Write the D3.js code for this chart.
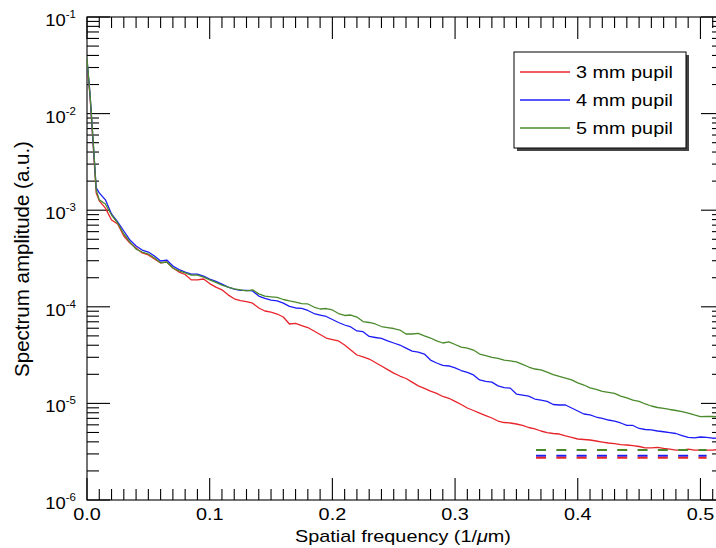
<!DOCTYPE html>
<html>
<head>
<meta charset="UTF-8">
<script src="https://d3js.org/d3.v7.min.js"></script>
<style>
    body { margin: 0; background: #fff; }
    svg { display: block; }
    text { font-family: "Liberation Sans", Arial, Helvetica, sans-serif; fill: #000; }
</style>
</head>
<body>
<svg width="716" height="548"></svg>
<script>
// sample grid (1/um)
const freq = [0, 0.0025, 0.005, 0.0075].concat(d3.range(0.01, 0.5151, 0.005));

const pupil3 = [
    3.42e-2, 1.49e-2, 4.73e-3, 1.51e-3, 1.25e-3, 1.05e-3, 7.92e-4, 7.19e-4, 5.41e-4, 4.57e-4,
    4.06e-4, 3.61e-4, 3.44e-4, 3.13e-4, 2.85e-4, 2.91e-4, 2.52e-4, 2.29e-4, 2.16e-4, 1.90e-4,
    1.90e-4, 1.94e-4, 1.74e-4, 1.60e-4, 1.50e-4, 1.33e-4, 1.21e-4, 1.16e-4, 1.13e-4, 1.09e-4,
    9.72e-5, 9.05e-5, 8.83e-5, 8.42e-5, 7.84e-5, 6.64e-5, 6.72e-5, 6.40e-5, 6.10e-5, 5.62e-5,
    5.17e-5, 4.75e-5, 4.58e-5, 4.43e-5, 4.02e-5, 3.57e-5, 3.17e-5, 3.03e-5, 2.88e-5, 2.65e-5,
    2.44e-5, 2.24e-5, 2.06e-5, 1.92e-5, 1.81e-5, 1.66e-5, 1.52e-5, 1.43e-5, 1.34e-5, 1.27e-5,
    1.18e-5, 1.13e-5, 1.05e-5, 9.74e-6, 8.96e-6, 8.44e-6, 7.95e-6, 7.49e-6, 7.06e-6, 6.57e-6,
    6.34e-6, 6.27e-6, 6.12e-6, 5.91e-6, 5.63e-6, 5.44e-6, 5.18e-6, 4.99e-6, 4.88e-6, 4.82e-6,
    4.60e-6, 4.44e-6, 4.28e-6, 4.23e-6, 4.18e-6, 4.08e-6, 3.98e-6, 3.89e-6, 3.84e-6, 3.75e-6,
    3.71e-6, 3.66e-6, 3.58e-6, 3.46e-6, 3.46e-6, 3.50e-6, 3.42e-6, 3.36e-6, 3.29e-6, 3.29e-6,
    3.36e-6, 3.29e-6, 3.29e-6, 3.29e-6, 3.29e-6, 3.33e-6
];
const pupil4 = [
    3.60e-2, 1.56e-2, 5.08e-3, 1.70e-3, 1.51e-3, 1.28e-3, 9.13e-4, 7.55e-4, 6.09e-4, 4.91e-4,
    4.26e-4, 3.87e-4, 3.69e-4, 3.36e-4, 2.98e-4, 3.05e-4, 2.64e-4, 2.43e-4, 2.29e-4, 2.18e-4,
    2.18e-4, 2.08e-4, 1.94e-4, 1.83e-4, 1.72e-4, 1.60e-4, 1.52e-4, 1.48e-4, 1.48e-4, 1.46e-4,
    1.29e-4, 1.22e-4, 1.17e-4, 1.15e-4, 1.09e-4, 1.01e-4, 9.72e-5, 9.65e-5, 9.16e-5, 8.52e-5,
    8.22e-5, 7.94e-5, 7.39e-5, 6.88e-5, 6.48e-5, 6.18e-5, 5.62e-5, 5.52e-5, 4.93e-5, 4.81e-5,
    4.70e-5, 4.43e-5, 4.22e-5, 4.02e-5, 3.74e-5, 3.48e-5, 3.40e-5, 3.24e-5, 2.81e-5, 2.62e-5,
    2.47e-5, 2.44e-5, 2.33e-5, 2.19e-5, 2.09e-5, 1.97e-5, 1.75e-5, 1.69e-5, 1.66e-5, 1.52e-5,
    1.46e-5, 1.44e-5, 1.25e-5, 1.22e-5, 1.19e-5, 1.11e-5, 1.08e-5, 1.05e-5, 9.74e-6, 9.63e-6,
    9.63e-6, 8.96e-6, 8.34e-6, 7.77e-6, 7.59e-6, 7.23e-6, 6.98e-6, 6.73e-6, 6.57e-6, 6.27e-6,
    5.91e-6, 5.91e-6, 5.50e-6, 5.37e-6, 5.31e-6, 5.18e-6, 5.09e-6, 4.99e-6, 4.88e-6, 4.65e-6,
    4.44e-6, 4.39e-6, 4.49e-6, 4.44e-6, 4.36e-6, 4.39e-6
];
const pupil5 = [
    3.76e-2, 1.56e-2, 5.33e-3, 1.62e-3, 1.28e-3, 1.16e-3, 8.92e-4, 7.37e-4, 5.67e-4, 4.68e-4,
    3.96e-4, 3.69e-4, 3.52e-4, 3.20e-4, 2.85e-4, 2.91e-4, 2.52e-4, 2.35e-4, 2.24e-4, 2.13e-4,
    2.13e-4, 2.03e-4, 1.90e-4, 1.79e-4, 1.68e-4, 1.60e-4, 1.53e-4, 1.50e-4, 1.46e-4, 1.50e-4,
    1.36e-4, 1.29e-4, 1.27e-4, 1.25e-4, 1.19e-4, 1.15e-4, 1.12e-4, 1.08e-4, 1.07e-4, 9.95e-5,
    9.49e-5, 9.60e-5, 9.27e-5, 8.52e-5, 8.13e-5, 8.22e-5, 7.84e-5, 7.04e-5, 6.88e-5, 6.64e-5,
    6.25e-5, 6.10e-5, 5.96e-5, 5.75e-5, 5.23e-5, 5.23e-5, 5.30e-5, 4.99e-5, 4.75e-5, 4.43e-5,
    4.22e-5, 4.33e-5, 4.07e-5, 3.83e-5, 3.74e-5, 3.57e-5, 3.24e-5, 3.13e-5, 2.99e-5, 2.92e-5,
    2.81e-5, 2.75e-5, 2.69e-5, 2.53e-5, 2.38e-5, 2.27e-5, 2.22e-5, 2.11e-5, 1.99e-5, 1.90e-5,
    1.83e-5, 1.75e-5, 1.63e-5, 1.55e-5, 1.45e-5, 1.40e-5, 1.33e-5, 1.30e-5, 1.27e-5, 1.19e-5,
    1.14e-5, 1.08e-5, 1.05e-5, 9.86e-6, 9.40e-6, 9.07e-6, 8.90e-6, 8.65e-6, 8.44e-6, 8.24e-6,
    7.95e-6, 7.59e-6, 7.28e-6, 7.32e-6, 7.32e-6, 7.23e-6
];

// noise floor levels (dashed)
const floorStart = 0.366, floorEnd = 0.505;
const floor5 = 3.30e-6, floor4 = 2.87e-6, floor3 = 2.74e-6;

const seriesNames = ["3 mm pupil", "4 mm pupil", "5 mm pupil"];
const seriesColors = ["#e8242b", "#1c1cf5", "#4a8a2c"];

const xMajor = [0, 0.1, 0.2, 0.3, 0.4, 0.5];
const xMajorLabels = ["0.0", "0.1", "0.2", "0.3", "0.4", "0.5"];
const yDecades = [1e-6, 1e-5, 1e-4, 1e-3, 1e-2, 1e-1];
const yExponents = ["-6", "-5", "-4", "-3", "-2", "-1"];

const svg = d3.select("svg");
const pl = 87, pr = 724, pt = 17, pb = 500;

const x = d3.scaleLinear().domain([0, 0.5192]).range([pl, pr]);
const y = d3.scaleLog().domain([1e-6, 1e-1]).range([pb, pt]);

// stretched text helper (the original font is wide)
function label(g, px, py, str, anchor, size) {
    return g.append("text")
        .attr("transform", `translate(${px},${py}) scale(1.24,1)`)
        .attr("text-anchor", anchor)
        .style("font-size", size + "px")
        .text(str);
}

svg.append("defs").append("clipPath").attr("id", "plot")
    .append("rect").attr("x", pl).attr("y", pt)
    .attr("width", pr - pl).attr("height", pb - pt);

const axes = svg.append("g").attr("stroke", "#000").attr("stroke-width", 1.1);

// x ticks bottom + top
const xMinor = d3.range(0, 0.52, 0.01);
xMinor.forEach((v, i) => {
    const major = i % 10 === 0;
    const len = major ? 22 : 11;
    axes.append("line").attr("x1", x(v)).attr("x2", x(v))
        .attr("y1", pb).attr("y2", pb - len);
    axes.append("line").attr("x1", x(v)).attr("x2", x(v))
        .attr("y1", pt).attr("y2", pt + len);
});

// y ticks left + right
yDecades.forEach((d, i) => {
    axes.append("line").attr("x1", pl).attr("x2", pl + 23).attr("y1", y(d)).attr("y2", y(d));
    axes.append("line").attr("x1", pr).attr("x2", pr - 23).attr("y1", y(d)).attr("y2", y(d));
    if (i < yDecades.length - 1) {
        d3.range(2, 10).forEach(m => {
            const v = m * d;
            axes.append("line").attr("x1", pl).attr("x2", pl + 12).attr("y1", y(v)).attr("y2", y(v));
            axes.append("line").attr("x1", pr).attr("x2", pr - 12).attr("y1", y(v)).attr("y2", y(v));
        });
    }
});

// frame
axes.append("rect").attr("x", pl).attr("y", pt)
    .attr("width", pr - pl).attr("height", pb - pt).attr("fill", "none");

// tick labels
const tl = svg.append("g");
xMajor.forEach((v, i) => label(tl, x(v), 520, xMajorLabels[i], "middle", 16));

yDecades.forEach((d, i) => {
    const t = tl.append("text")
        .attr("transform", `translate(76,${y(d) + 9}) scale(1.15,1)`)
        .attr("text-anchor", "end");
    t.append("tspan").style("font-size", "16px").text("10");
    t.append("tspan").attr("dy", -8).style("font-size", "10px").text(yExponents[i]);
});

// axis titles
const xt = svg.append("text")
    .attr("transform", `translate(403,542) scale(1.24,1)`)
    .attr("text-anchor", "middle").style("font-size", "16px");
xt.append("tspan").text("Spatial frequency (1/");
xt.append("tspan").style("font-style", "italic").text("\u03bc");
xt.append("tspan").text("m)");

svg.append("text")
    .attr("transform", "translate(29,259) rotate(-90)")
    .attr("text-anchor", "middle").style("font-size", "20.5px")
    .text("Spectrum amplitude (a.u.)");

// data lines
const plot = svg.append("g").attr("clip-path", "url(#plot)");
const line = d3.line().x(d => x(d[0])).y(d => y(d[1]));

[pupil3, pupil4, pupil5].forEach((vals, i) => {
    plot.append("path")
        .datum(freq.map((f, k) => [f, vals[k]]))
        .attr("d", line)
        .attr("fill", "none")
        .attr("stroke", seriesColors[i])
        .attr("stroke-width", 1.3)
        .attr("stroke-linejoin", "round");
});

// noise floors
[[floor5, 2], [floor4, 1], [floor3, 0]].forEach(([lvl, ci]) => {
    plot.append("line")
        .attr("x1", x(floorStart)).attr("x2", x(floorEnd))
        .attr("y1", y(lvl)).attr("y2", y(lvl))
        .attr("stroke", seriesColors[ci])
        .attr("stroke-width", 2)
        .attr("stroke-dasharray", "10,10.3");
});

// legend
const lg = svg.append("g");
lg.append("rect").attr("x", 517).attr("y", 55).attr("width", 172).attr("height", 96).attr("fill", "#444");
lg.append("rect").attr("x", 514).attr("y", 52).attr("width", 172).attr("height", 96)
    .attr("fill", "#fff").attr("stroke", "#000").attr("stroke-width", 1);
seriesNames.forEach((name, i) => {
    const ly = 72 + i * 28;
    lg.append("line").attr("x1", 520).attr("x2", 570).attr("y1", ly).attr("y2", ly)
        .attr("stroke", seriesColors[i]).attr("stroke-width", 1.3);
    label(lg, 576, ly + 6, name, "start", 16);
});
</script>
</body>
</html>
